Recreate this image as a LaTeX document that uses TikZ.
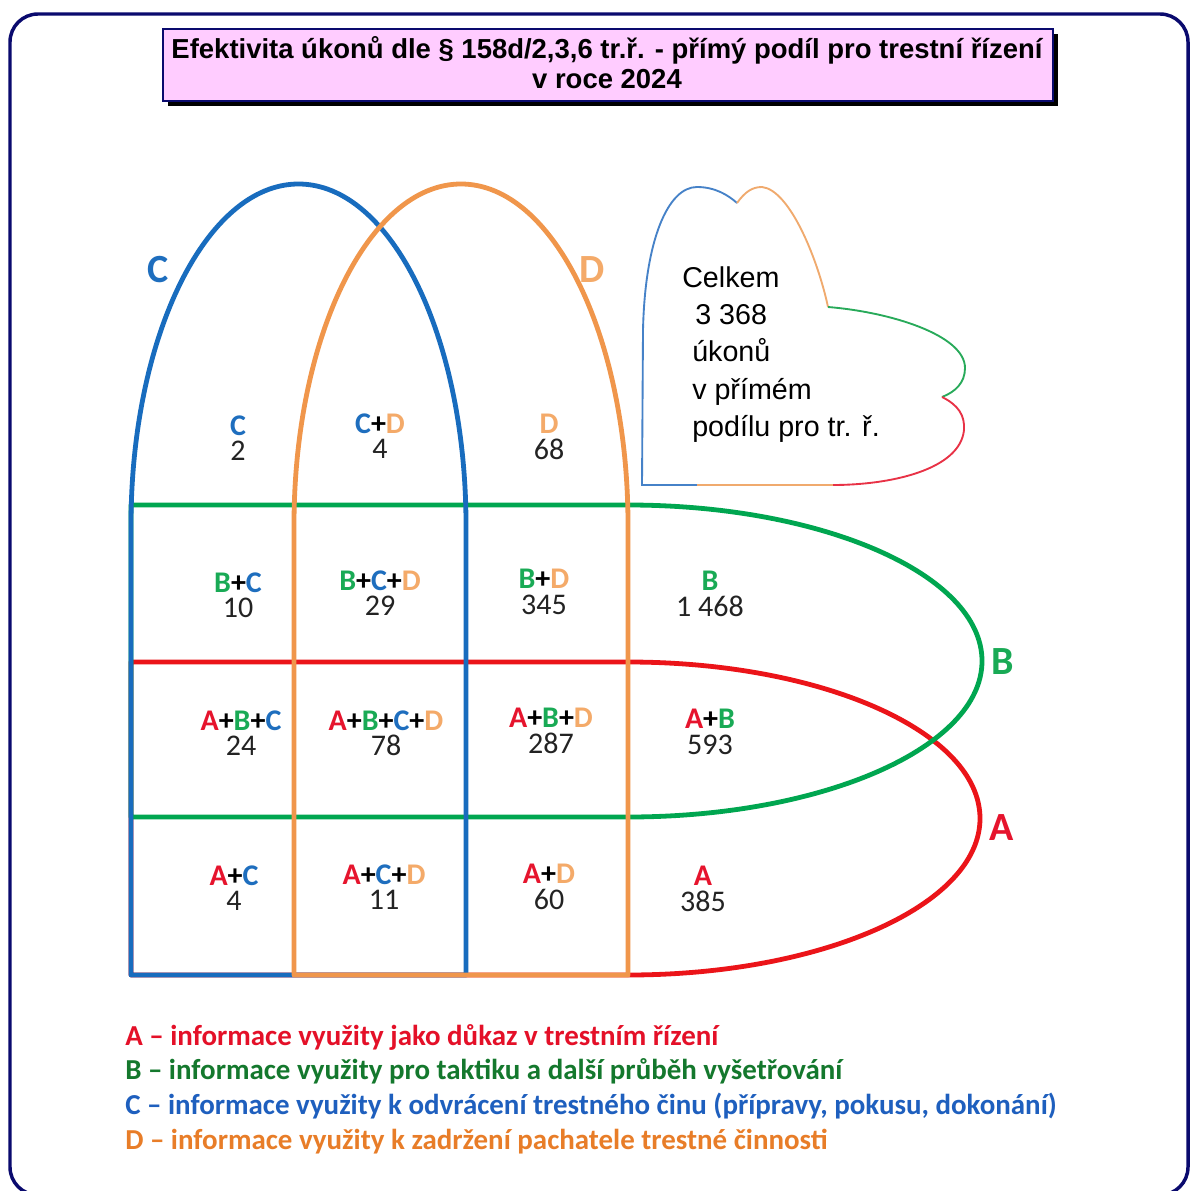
\documentclass[tikz,border=0pt]{standalone}
\usepackage{fontspec}
\setmainfont{Liberation Sans}
\newfontfamily\calib{Carlito}
\definecolor{navy}{RGB}{10,10,110}
\definecolor{pinkbox}{RGB}{255,204,255}
\definecolor{sRed}{RGB}{235,20,25}
\definecolor{sGreen}{RGB}{0,166,80}
\definecolor{sBlue}{RGB}{24,108,190}
\definecolor{sOrange}{RGB}{240,150,75}
\definecolor{lA}{RGB}{230,20,45}
\definecolor{lB}{RGB}{25,170,85}
\definecolor{lC}{RGB}{30,110,190}
\definecolor{lD}{RGB}{244,170,105}
\definecolor{gA}{RGB}{228,16,40}
\definecolor{gB}{RGB}{20,120,45}
\definecolor{gC}{RGB}{30,95,190}
\definecolor{gD}{RGB}{232,125,40}
\definecolor{numgray}{RGB}{35,35,35}
\definecolor{clBlue}{RGB}{70,130,200}
\definecolor{clOrange}{RGB}{240,170,110}
\definecolor{clGreen}{RGB}{40,170,90}
\definecolor{clRed}{RGB}{232,50,70}
\newcommand{\ltA}{\textcolor{lA}{A}}
\newcommand{\ltB}{\textcolor{lB}{B}}
\newcommand{\ltC}{\textcolor{lC}{C}}
\newcommand{\ltD}{\textcolor{lD}{D}}
\newcommand{\ltp}{\textcolor{black}{+}}
\begin{document}
\begin{tikzpicture}[x=0.75pt,y=-0.75pt,
  setline/.style={line width=3.6pt, line join=round},
  cell/.style={align=center, inner sep=0pt, text=numgray, font=\calib\fontsize{22.5}{19}\selectfont},
  setlabel/.style={inner sep=0pt, font=\calib\bfseries\fontsize{30}{30}\selectfont},
  cloudline/.style={line width=1.4pt}]
\clip (0,0) rectangle (1190,1191);
\fill[white] (0,0) rectangle (1190,1191);
% outer frame
\draw[navy, line width=2.6pt, rounded corners=21pt] (10,14) rectangle (1188,1195);
% title box
\fill[black] (168,34) rectangle (1058,106);
\draw[navy, fill=pinkbox, line width=1.6pt] (163,29) rectangle (1053,101);
\node[align=center, inner sep=0pt, font=\bfseries\fontsize{20.6}{22.5}\selectfont] (title) at (607,63)
  {Efektivita úkonů dle § 158d/2,3,6 tr.ř. - přímý podíl pro trestní řízení\\
   v roce 2024};
% set A (red)
\draw[setline, sRed] (131,662) -- (628,662) arc[start angle=270, end angle=450, x radius=352, y radius=156.5] -- (131,975) -- cycle;
% set B (green)
\draw[setline, sGreen] (131,505) -- (628,505) arc[start angle=270, end angle=450, x radius=354, y radius=156] -- (131,817) -- cycle;
% set C (blue)
\draw[setline, sBlue] (131,975) -- (131,525) arc[start angle=180, end angle=360, x radius=167.5, y radius=341] -- (466,975) -- cycle;
% set D (orange)
\draw[setline, sOrange] (294,975) -- (294,525) arc[start angle=180, end angle=360, x radius=167, y radius=341] -- (628,975) -- cycle;
% set labels
\node[setlabel, text=lC] (labC) at (158,270) {C};
\node[setlabel, text=lD] (labD) at (592,270) {D};
\node[setlabel, text=lB] (labB) at (1003,662) {B};
\node[setlabel, text=lA] (labA) at (1002,828) {A};
% cells
\node[cell] (cC) at (238,438) {\textbf{\ltC}\\2};
\node[cell] (cCD) at (380,436) {\textbf{\ltC\ltp\ltD}\\4};
\node[cell] (cD) at (549,437) {\textbf{\ltD}\\68};
\node[cell] (cBC) at (238,595) {\textbf{\ltB\ltp\ltC}\\10};
\node[cell] (cBCD) at (380,593) {\textbf{\ltB\ltp\ltC\ltp\ltD}\\29};
\node[cell] (cBD) at (544,592) {\textbf{\ltB\ltp\ltD}\\345};
\node[cell] (cB) at (710,594) {\textbf{\ltB}\\1 468};
\node[cell] (cABC) at (241,733) {\textbf{\ltA\ltp\ltB\ltp\ltC}\\24};
\node[cell] (cABCD) at (386,733) {\textbf{\ltA\ltp\ltB\ltp\ltC\ltp\ltD}\\78};
\node[cell] (cABD) at (551,731) {\textbf{\ltA\ltp\ltB\ltp\ltD}\\287};
\node[cell] (cAB) at (710,732) {\textbf{\ltA\ltp\ltB}\\593};
\node[cell] (cAC) at (234,888) {\textbf{\ltA\ltp\ltC}\\4};
\node[cell] (cACD) at (384,887) {\textbf{\ltA\ltp\ltC\ltp\ltD}\\11};
\node[cell] (cAD) at (549,887) {\textbf{\ltA\ltp\ltD}\\60};
\node[cell] (cA) at (703,889) {\textbf{\ltA}\\385};
% cloud
\draw[cloudline, clBlue] (697,485) -- (642,485) -- (643,330) .. controls (645,240) and (668,187) .. (697,187) .. controls (715,187) and (728,195) .. (737,203);
\draw[cloudline, clOrange] (737,203) .. controls (745,192) and (752,187) .. (762,187) .. controls (790,190) and (818,260) .. (828,307);
\draw[cloudline, clGreen] (828,307) .. controls (890,312) and (965,335) .. (965,368) .. controls (965,383) and (955,392) .. (942,397);
\draw[cloudline, clRed] (942,397) .. controls (958,405) and (965,415) .. (964,430) .. controls (960,470) and (890,485) .. (833,485);
\draw[cloudline, clOrange] (833,485) -- (697,485);
\node[anchor=north west, align=left, inner sep=0pt, font=\fontsize{21.5}{28.1}\selectfont] (total) at (682,266)
  {Celkem\\\hspace*{9.75pt}3 368\\\hspace*{7.5pt}úkonů\\\hspace*{7.5pt}v přímém\\\hspace*{7.5pt}podílu pro tr. ř.};
% legend
\node[anchor=north west, align=left, inner sep=0pt, font=\calib\bfseries\fontsize{21.7}{26}\selectfont] (legend) at (125,1024)
  {\textcolor{gA}{A – informace využity jako důkaz v trestním řízení}\\
   \textcolor{gB}{B – informace využity pro taktiku a další průběh vyšetřování}\\
   \textcolor{gC}{C – informace využity k odvrácení trestného činu (přípravy, pokusu, dokonání)}\\
   \textcolor{gD}{D – informace využity k zadržení pachatele trestné činnosti}};
\end{tikzpicture}
\end{document}
